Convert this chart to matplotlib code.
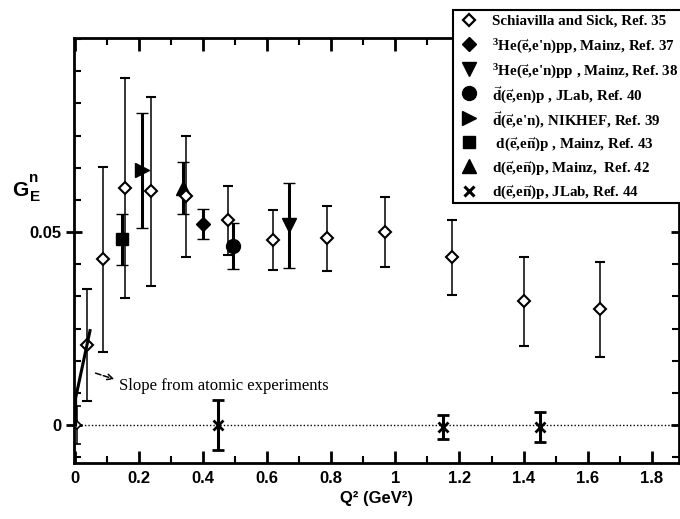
import matplotlib
matplotlib.use("Agg")
import matplotlib.pyplot as plt
from matplotlib.lines import Line2D
from matplotlib.patches import Rectangle
from matplotlib.ticker import MultipleLocator
import numpy as np

plt.rcParams['mathtext.fontset'] = 'custom'
plt.rcParams['mathtext.rm'] = 'Liberation Serif:bold'
plt.rcParams['mathtext.it'] = 'Liberation Serif:italic:bold'
plt.rcParams['mathtext.bf'] = 'Liberation Serif:bold'

# Schiavilla and Sick, Ref. 35 (open diamonds)
ss_q2 = [0.038, 0.088, 0.156, 0.238, 0.347, 0.478, 0.619, 0.788, 0.969, 1.178, 1.40, 1.64]
ss_g = [0.0207, 0.0430, 0.0614, 0.0606, 0.0593, 0.0531, 0.0479, 0.0484, 0.0500, 0.0435, 0.0321, 0.0300]
ss_err = [0.0145, 0.0240, 0.0285, 0.0245, 0.0157, 0.0089, 0.0078, 0.0084, 0.0090, 0.0097, 0.0115, 0.0124]

# point at origin
orig_q2 = [0.006]
orig_g = [0.0]
orig_err = [0.005]

# other experiments: (label, marker, size, q2, g, err)
sets = [
    (r"$^{3}$He($\vec{\mathrm{e}}$,e'n)pp, Mainz, Ref. 37", 'D', 7, [0.40], [0.0520], [0.0039]),
    (r"$^{3}$He($\vec{\mathrm{e}}$,e'n)pp , Mainz, Ref. 38", 'v', 10, [0.669], [0.0518], [0.0110]),
    (r"$\vec{\mathrm{d}}$($\vec{\mathrm{e}}$,en)p , JLab, Ref. 40", 'o', 10, [0.494], [0.0464], [0.0060]),
    (r"$\vec{\mathrm{d}}$($\vec{\mathrm{e}}$,e'n), NIKHEF, Ref. 39", '>', 10, [0.209], [0.0660], [0.0149]),
    (r" d($\vec{\mathrm{e}}$,e$\vec{\mathrm{n}}$)p , Mainz, Ref. 43", 's', 9, [0.147], [0.0482], [0.0066]),
    (r"d($\vec{\mathrm{e}}$,e$\vec{\mathrm{n}}$)p, Mainz,  Ref. 42", '^', 10, [0.338], [0.0614], [0.0068]),
    (r"d($\vec{\mathrm{e}}$,e$\vec{\mathrm{n}}$)p, JLab, Ref. 44", 'x', 7, [0.447, 1.15, 1.45], [0.0, -0.0004, -0.0004], [0.0065, 0.0031, 0.0039]),
]

# slope from atomic experiments
slope_q2 = [0.002, 0.002, 0.047]
slope_g = [0.0, 0.007, 0.0245]

W, H = 680, 519
fig = plt.figure(figsize=(6.8, 5.19), dpi=100)
ax = fig.add_axes([74/W, 1-463/H, (679-74)/W, (463-38)/H])

ax.axhline(0, color='black', lw=1.0, ls=(0, (1, 1.5)), zorder=1)

ax.errorbar(ss_q2, ss_g, yerr=ss_err, fmt='D', ms=6, mfc='white', mec='black', mew=1.5,
            ecolor='black', elinewidth=1.1, capsize=3.5, capthick=1.3, zorder=4)
ax.errorbar(orig_q2, orig_g, yerr=orig_err, fmt='D', ms=4, mfc='white', mec='black', mew=1.2,
            ecolor='black', elinewidth=1.1, capsize=3, capthick=1.2, zorder=4)

for lab, mk, sz, q, g, e in sets:
    ax.errorbar(q, g, yerr=e, fmt=mk, ms=sz, color='black', mew=2 if mk == 'x' else 1,
                ecolor='black', elinewidth=2.2, capsize=4, capthick=2.2, zorder=3)

ax.plot(slope_q2, slope_g, color='black', lw=2.2, zorder=5)
ax.annotate('', xy=(0.131, 0.0117), xytext=(0.056, 0.0137),
            arrowprops=dict(arrowstyle='->', color='black', lw=1.1, ls='--'))
ax.text(0.1375, 0.0101, 'Slope from atomic experiments', family='Liberation Serif',
        fontsize=12, va='center', ha='left')

ax.set_xlim(-0.003, 1.885)
ax.set_ylim(-0.0098, 0.1003)
ax.set_xticks([0, 0.2, 0.4, 0.6, 0.8, 1, 1.2, 1.4, 1.6, 1.8])
ax.set_xticklabels(['0', '0.2', '0.4', '0.6', '0.8', '1', '1.2', '1.4', '1.6', '1.8'])
ax.xaxis.set_minor_locator(MultipleLocator(0.1))
ax.set_yticks([0, 0.05])
ax.set_yticklabels(['0', '0.05'])
ax.yaxis.set_minor_locator(MultipleLocator(0.05/6))

for lab in ax.get_xticklabels() + ax.get_yticklabels():
    lab.set_family('Liberation Sans')
    lab.set_fontweight('bold')
    lab.set_fontsize(12)

ax.tick_params(which='major', direction='in', length=9, width=2, top=True, right=True, pad=6)
ax.tick_params(which='minor', direction='in', length=5, width=1.5, top=True, right=True)
ax.tick_params(axis='y', which='major', direction='inout', length=12, pad=3)
for s in ax.spines.values():
    s.set_linewidth(2)

ax.set_xlabel('Q² (GeV²)', family='Liberation Sans', fontweight='bold', fontsize=12, labelpad=3)
fig.text(20/W, 1-190/H, 'G', family='Liberation Sans', fontweight='bold', fontsize=15,
         ha='center', va='center')
fig.text(34/W, 1-178/H, 'n', family='Liberation Sans', fontweight='bold', fontsize=11,
         ha='center', va='center')
fig.text(35/W, 1-197/H, 'E', family='Liberation Sans', fontweight='bold', fontsize=11,
         ha='center', va='center')

# legend drawn by hand so the rows are evenly spaced
fig.add_artist(Rectangle((453/W, 1-203/H), 240/W, 193/H, transform=fig.transFigure,
                         facecolor='white', edgecolor='black', lw=1.5, zorder=10))
leg_items = [('D', 6.5, 'Schiavilla and Sick, Ref. 35', True)]
for lab, mk, sz, q, g, e in sets:
    leg_items.append((mk, sz, lab, False))
for i, (mk, sz, lab, hollow) in enumerate(leg_items):
    yy = 1 - (20 + i*24.4)/H
    fig.add_artist(Line2D([469/W], [yy], transform=fig.transFigure, ls='none', marker=mk,
                          ms=sz, mfc='white' if hollow else 'black', mec='black',
                          mew=2.2 if mk == 'x' else (1.6 if hollow else 1), zorder=11))
    fig.text(492/W, yy, lab, family='Liberation Serif', fontweight='bold', fontsize=10.8,
             va='center_baseline', ha='left', zorder=11)

fig.savefig('out.png', dpi=100)
